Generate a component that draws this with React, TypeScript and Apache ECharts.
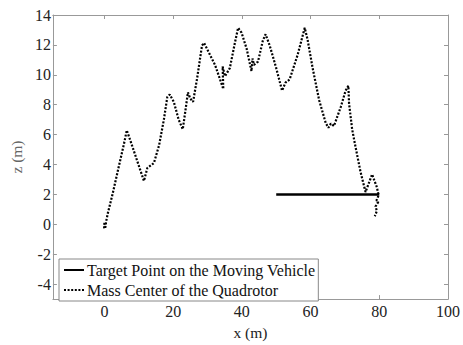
import React, { useEffect, useRef } from "react";
import * as echarts from "echarts";

const xTicks = [0, 20, 40, 60, 80, 100];
const zTicks = [-4, -2, 0, 2, 4, 6, 8, 10, 12, 14];

const targetX = [50, 80];
const targetZ = [2, 2];

const massX = [
  0, -0.1, 0.2, 0.5, 1, 2.4, 4.3, 5.8, 6.5, 7.7, 9.6, 11.5, 12.5, 13.5, 14.4, 15.9, 17.3, 18.3, 19,
  20.2, 21.6, 22.8, 23.6, 24.3, 25, 25.8, 27, 28.4, 29, 30.8, 32.2, 34.6, 34.4, 35.1, 36.5, 38, 38.9,
  39.9, 41.4, 42.8, 43.1, 43.5, 44.7, 46.1, 46.9, 48.1, 50, 51.7, 52.7, 53.9, 56.2, 58.3, 59.1, 60.6,
  62.5, 64.4, 65.2, 65.9, 66.8, 68.8, 70.2, 71, 71.2, 72.1, 72.9, 74.5, 76, 77.9, 79.3, 79.8, 79.2,
  79.7, 78.9, 79.3, 78.7,
];
const massZ = [
  0.1, -0.2, -0.3, 0.2, 0.75, 2.05, 3.99, 5.5, 6.29, 5.5, 4.2, 2.9, 3.77, 3.94, 4.1, 5.28, 7.0, 8.51,
  8.68, 8.19, 7.0, 6.36, 7.65, 8.83, 8.4, 8.19, 9.8, 11.96, 12.13, 11.3, 10.66, 9.05, 10.56, 9.91,
  10.45, 12.17, 13.14, 12.82, 11.74, 10.24, 11.1, 10.66, 10.88, 12.28, 12.71, 11.96, 10.45, 8.94, 9.48,
  9.69, 11.31, 13.14, 12.39, 10.45, 8.3, 6.78, 6.46, 6.74, 6.57, 7.86, 8.94, 9.27, 8.08, 6.36, 5.39,
  3.55, 2.16, 3.34, 2.48, 1.94, 1.6, 1.5, 1.19, 0.9, 0.54,
];

const FONT = "'Liberation Serif', 'Times New Roman', serif";

export default function App() {
  const ref = useRef<HTMLDivElement>(null);
  useEffect(() => {
    if (!ref.current) return;
    const chart = echarts.init(ref.current, null, { renderer: "svg" });
    const axisLineStyle = { color: "#999", width: 1 };
    const tickStyle = { color: "#999", width: 1 };
    chart.setOption({
      animation: false,
      backgroundColor: "#fff",
      grid: { left: 51, right: 13, top: 15, bottom: 36, containLabel: false },
      legend: {
        orient: "vertical",
        left: 59,
        top: 259,
        padding: [3, 3, 3, 4],
        itemGap: 4,
        itemWidth: 20,
        itemHeight: 16,
        borderColor: "#888",
        borderWidth: 1,
        borderRadius: 0,
        backgroundColor: "#fff",
        itemStyle: { opacity: 0 },
        textStyle: { fontFamily: FONT, fontSize: 16, color: "#111", padding: [0, 0, 0, -2] },
        data: ["Target Point on the Moving Vehicle", "Mass Center of the Quadrotor"],
      },
      xAxis: [
        {
          type: "value",
          min: -15,
          max: 100,
          position: "bottom",
          name: "x (m)",
          nameLocation: "middle",
          nameGap: 22,
          nameTextStyle: { fontFamily: FONT, fontSize: 15.5, color: "#222" },
          axisLine: { show: true, onZero: false, lineStyle: axisLineStyle },
          axisTick: { show: true, inside: true, length: 4, lineStyle: tickStyle, customValues: xTicks },
          axisLabel: { fontFamily: FONT, fontSize: 16, color: "#222", margin: 4, customValues: xTicks },
          splitLine: { show: false },
        },
        {
          type: "value",
          min: -15,
          max: 100,
          position: "top",
          axisLine: { show: true, onZero: false, lineStyle: axisLineStyle },
          axisTick: { show: true, inside: true, length: 4, lineStyle: tickStyle, customValues: xTicks },
          axisLabel: { show: false },
          splitLine: { show: false },
        },
      ],
      yAxis: [
        {
          type: "value",
          min: -5,
          max: 14,
          position: "left",
          name: "z (m)",
          nameLocation: "middle",
          nameGap: 18,
          nameTextStyle: { fontFamily: FONT, fontSize: 15.5, color: "#666" },
          axisLine: { show: true, onZero: false, lineStyle: axisLineStyle },
          axisTick: { show: true, inside: true, length: 4, lineStyle: tickStyle, customValues: zTicks },
          axisLabel: { fontFamily: FONT, fontSize: 16, color: "#222", margin: 2, customValues: zTicks },
          splitLine: { show: false },
        },
        {
          type: "value",
          min: -5,
          max: 14,
          position: "right",
          axisLine: { show: true, onZero: false, lineStyle: axisLineStyle },
          axisTick: { show: true, inside: true, length: 4, lineStyle: tickStyle, customValues: zTicks },
          axisLabel: { show: false },
          splitLine: { show: false },
        },
      ],
      series: [
        {
          name: "Target Point on the Moving Vehicle",
          type: "line",
          xAxisIndex: 0,
          yAxisIndex: 0,
          symbol: "none",
          data: targetX.map((x, i) => [x, targetZ[i]]),
          lineStyle: { color: "#000", width: 2.5, type: "solid" },
          itemStyle: { color: "#000" },
        },
        {
          name: "Mass Center of the Quadrotor",
          type: "line",
          xAxisIndex: 0,
          yAxisIndex: 0,
          symbol: "none",
          data: massX.map((x, i) => [x, massZ[i]]),
          lineStyle: { color: "#000", width: 2.2, type: [2, 1.6] },
          itemStyle: { color: "#000" },
        },
      ],
    });
    return () => chart.dispose();
  }, []);
  return <div ref={ref} style={{ width: 463, height: 345, position: "fixed", left: 0, top: 0 }} />;
}
